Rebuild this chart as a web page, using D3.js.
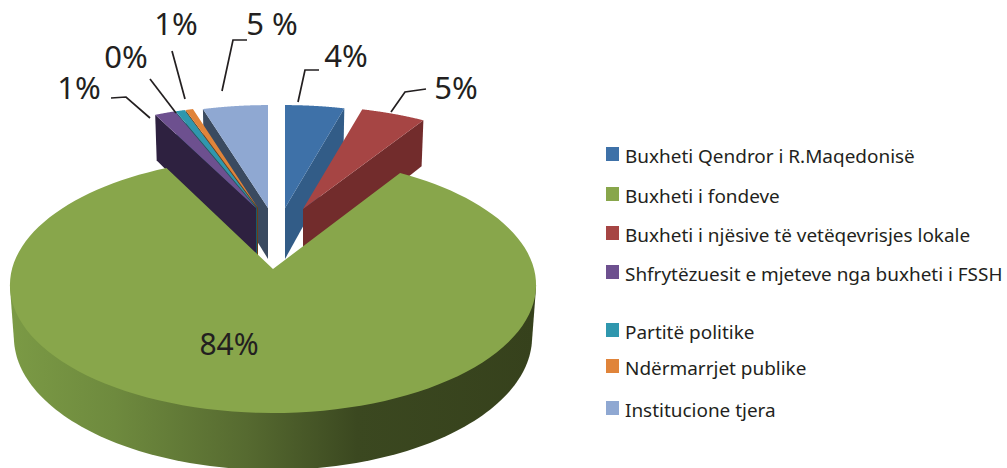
<!DOCTYPE html>
<html><head><meta charset="utf-8">
<script src="https://cdn.jsdelivr.net/npm/d3@7"></script>
<style>html,body{margin:0;padding:0;background:#fff}svg{display:block}text{font-family:"Noto Sans",sans-serif;fill:#231f20}</style>
</head><body><div id="c"></div>
<script>
// data (clockwise from 12 o'clock)
const categories=["Buxheti Qendror i R.Maqedonisë","Buxheti i njësive të vetëqevrisjes lokale","Buxheti i fondeve","Shfrytëzuesit e mjeteve nga buxheti i FSSH","Partitë politike","Ndërmarrjet publike","Institucione tjera"];
const values=[4.35,4.7,83.5,1.5,0.67,0.55,4.78];
const valueLabels=["4%","5%","84%","1%","0%","1%","5 %"];
const legendOrder=[0,2,1,3,4,5,6];

// styles / layout
const topColors=["#3e71a8","#a64544","#88a64b","#6d508f","#2f97ae","#e0843a","#8fa8d2"];
const wallColors=["#325c87","#722c2c",null,"#2e2140","#175a68","#6e3d14","#3a4a60"];
const wallEdge=["end","end",null,"start","start","start","start"];
const apexX=[285,303,273,256,257,258,268];
const apexY=[208,209,269,208,208,208,208];
const persp=[.166,.166,.125,.166,.166,.166,.166];
const planeA=[255,255,261,255,255,255,255];
const planeB=[120,120,126,120,120,120,120];
const drawOrder=[6,5,4,3,0,1,2];
const legendBaseline=[163,203,242,281,339,375,417];
const labelPos=[[346,67],[456,99],[229,355],[79,99],[126,68],[176,35],[272,35]];
const labelSize=[31,31,30,31,31,31,31];
const leaders=[[[298,102],[305,70],[319,70]],[[391,112],[405,92],[426,89]],[],[[150,118],[126,97],[111,98]],[[176,113],[150,79]],[[185,99],[172,51]],[[222,91],[233,40],[247,40]]];
const D0=51,D1=6;

const W=1007,H=468;
const svg=d3.select("#c").append("svg").attr("width",W).attr("height",H);
const defs=svg.append("defs");
const grad=defs.append("linearGradient").attr("id","gw").attr("gradientUnits","userSpaceOnUse").attr("x1",10).attr("x2",536).attr("y1",0).attr("y2",0);
[[0,"#7b9a45"],[0.2,"#6e8a3e"],[0.45,"#566a30"],[0.66,"#3b4820"],[1,"#36411c"]].forEach(s=>grad.append("stop").attr("offset",s[0]).attr("stop-color",s[1]));

const pie=d3.pie().sort(null).value(d=>d);
const arcs=pie(values);
function topPt(i,r,t){const u=r*Math.sin(t),v=r*Math.cos(t),w=1+persp[i]*v;return [apexX[i]+planeA[i]*u/w,apexY[i]-planeB[i]*v/w];}
function botPt(i,r,t){const p=topPt(i,r,t),v=r*Math.cos(t);return [apexX[i]+(p[0]-apexX[i])*.985,p[1]+D0-D1*v];}
const line=d3.line();
const sweep=(a,b)=>d3.range(0,121).map(k=>a+(b-a)*k/120);

drawOrder.forEach(i=>{
  const a=arcs[i],g=svg.append("g");
  const s=sweep(a.startAngle,a.endAngle);
  if(wallColors[i]){
    const t=wallEdge[i]==="end"?a.endAngle:a.startAngle;
    g.append("path").attr("fill",wallColors[i]).attr("d",line([topPt(i,1,t),topPt(i,0,t),botPt(i,0,t),botPt(i,1,t)])+"Z");
  } else {
    const front=sweep(Math.PI*.54,Math.PI*1.46);
    const hull=d3.polygonHull(front.map(t=>topPt(i,1,t)).concat(front.map(t=>botPt(i,1,t))));
    g.append("path").attr("fill","url(#gw)").attr("d",line(hull)+"Z");
  }
  g.append("path").attr("fill",topColors[i]).attr("d",line([topPt(i,0,0)].concat(s.map(t=>topPt(i,1,t))))+"Z");
});

leaders.forEach(l=>{if(l.length)svg.append("path").attr("fill","none").attr("stroke","#231f20").attr("stroke-width",1.7).attr("d",line(l));});
valueLabels.forEach((t,i)=>svg.append("text").attr("x",labelPos[i][0]).attr("y",labelPos[i][1]).attr("text-anchor","middle").attr("font-size",labelSize[i]).text(t));

const leg=svg.append("g");
legendOrder.forEach((i,k)=>{
  const y=legendBaseline[k];
  leg.append("rect").attr("x",606).attr("y",y-16).attr("width",13).attr("height",14).attr("fill",topColors[i]);
  leg.append("text").attr("x",625).attr("y",y).attr("font-size",18.95).text(categories[i]);
});
</script></body></html>
